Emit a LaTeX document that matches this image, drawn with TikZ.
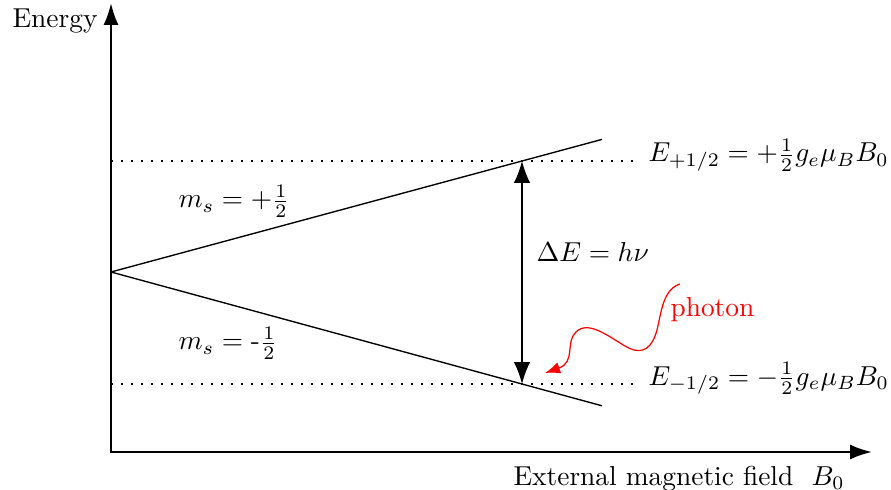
\documentclass[tikz,border=0pt]{standalone}
\usetikzlibrary{arrows.meta}
\begin{document}
\begin{tikzpicture}[x=0.365pt,y=-0.365pt,
  axis/.style={line width=0.9pt,{Latex[length=8pt,width=5.5pt]}-{Latex[length=8pt,width=5.5pt]}},
  level/.style={line width=0.5pt},
  dotline/.style={line width=0.75pt,dash pattern=on 0.75pt off 2.9pt},
  gap/.style={line width=0.5pt,{Latex[length=8pt,width=6pt]}-{Latex[length=8pt,width=6pt]}},
  photonline/.style={red,line width=0.45pt,-{Latex[length=5.5pt,width=4.2pt]}},
  lbl/.style={inner sep=0pt,anchor=base west}]
\useasboundingbox (0,0) rectangle (891,490);
% points
\coordinate (ytip) at (111,3);
\coordinate (o) at (111,452);
\coordinate (xtip) at (872,452);
\coordinate (v) at (111,272);
\coordinate (up) at (602,139.4);
\coordinate (lo) at (602,405.8);
\coordinate (ua) at (522,161);
\coordinate (la) at (522,384);
\coordinate (ud0) at (111,161);
\coordinate (ud1) at (638,161);
\coordinate (ld0) at (111,384);
\coordinate (ld1) at (638,384);
\coordinate (ph0) at (680,284);
\coordinate (ph1) at (545,373);
% axes
\draw[axis] (ytip) -- (o) -- (xtip);
\node[lbl] (energy) at (12,28) {Energy};
\node[lbl] (field) at (513,485) {External magnetic field\ \ $B_0$};
% levels
\draw[level] (v) -- (up);
\draw[level] (v) -- (lo);
\draw[dotline] (ud0) -- (ud1);
\draw[dotline] (ld0) -- (ld1);
\draw[gap] (ua) -- (la);
% labels
\node[lbl] (eplus) at (648,162) {$E_{+1/2} = +\frac{1}{2}g_e\mu_B B_0$};
\node[lbl] (eminus) at (648,385) {$E_{-1/2} = -\frac{1}{2}g_e\mu_B B_0$};
\node[lbl] (msp) at (178,208) {$m_s = +\frac{1}{2}$};
\node[lbl] (msm) at (178,350) {$m_s = \mbox{-}\frac{1}{2}$};
\node[lbl] (de) at (536,262) {$\Delta E = h\nu$};
\node[lbl,text=red] (photon) at (670,317) {photon};
% photon
\draw[photonline] (ph0) .. controls (660,290) and (661,322) .. (655,336)
  .. controls (649,352) and (638,354) .. (625,346)
  .. controls (608,336) and (588,320) .. (576,332)
  .. controls (565,342) and (576,362) .. (ph1);
\end{tikzpicture}
\end{document}
